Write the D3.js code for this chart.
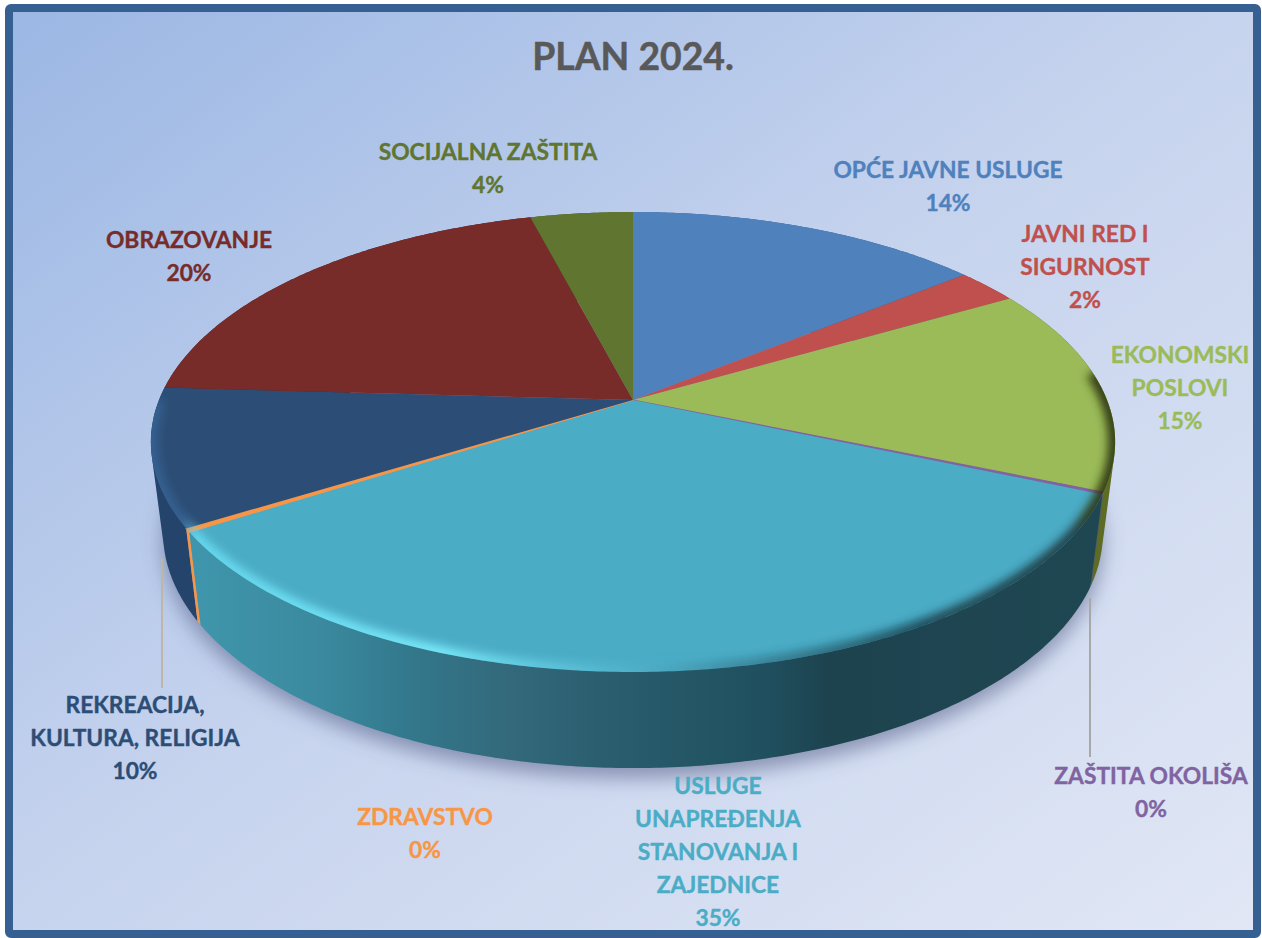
<!DOCTYPE html>
<html>
<head>
<meta charset="utf-8">
<script src="https://d3js.org/d3.v7.min.js"></script>
<style>
body { margin: 0; background: #fff; overflow: hidden; }
text { font-family: Lato, "Open Sans", sans-serif; font-weight: 700; text-anchor: middle; stroke-linejoin: round; }
</style>
</head>
<body>
<div id="chart"></div>
<script>
var chartTitle = "PLAN 2024.";
var categories = ["OPĆE JAVNE USLUGE", "JAVNI RED I SIGURNOST", "EKONOMSKI POSLOVI", "ZAŠTITA OKOLIŠA",
    "USLUGE UNAPREĐENJA STANOVANJA I ZAJEDNICE", "ZDRAVSTVO", "REKREACIJA, KULTURA, RELIGIJA", "OBRAZOVANJE", "SOCIJALNA ZAŠTITA"];
var values = [14.2, 2.5, 14.6, 0.15, 34.55, 0.25, 9.65, 20, 4.1];
var percentLabels = ["14%", "2%", "15%", "0%", "35%", "0%", "10%", "20%", "4%"];
var labelLines = [
    ["OPĆE JAVNE USLUGE"], ["JAVNI RED I", "SIGURNOST"], ["EKONOMSKI", "POSLOVI"], ["ZAŠTITA OKOLIŠA"],
    ["USLUGE", "UNAPREĐENJA", "STANOVANJA I", "ZAJEDNICE"], ["ZDRAVSTVO"], ["REKREACIJA,", "KULTURA, RELIGIJA"],
    ["OBRAZOVANJE"], ["SOCIJALNA ZAŠTITA"]
];
var colors = ["#4f81bd", "#c0504d", "#9bbb59", "#8064a2", "#4bacc6", "#f79646", "#2c4d75", "#772c2a", "#5f7530"];
var wallColors = ["#3b6190", "#903c3a", "#5d6b23", "#56557f", "url(#cyanWall)", "#f79646", "#24446c", "#5a2220", "#47581f"];

// where the label blocks sit: centre x, first baseline
var labelX = [948, 1085, 1180, 1151, 718, 425, 135, 189, 488];
var labelY = [178, 242, 363, 784, 794, 825, 713, 248, 160];
var lineGap = 33;

var width = 1262, height = 938;

var svg = d3.select("#chart").append("svg")
    .attr("width", width)
    .attr("height", height)
    .style("display", "block");

var defs = svg.append("defs");

var bg = defs.append("linearGradient").attr("id", "bg")
    .attr("x1", "0").attr("y1", "0").attr("x2", "1").attr("y2", "1");
bg.append("stop").attr("offset", "0").attr("stop-color", "#9bb7e4");
bg.append("stop").attr("offset", "0.5").attr("stop-color", "#c7d4ee");
bg.append("stop").attr("offset", "1").attr("stop-color", "#e1e7f5");

var cyanWall = defs.append("linearGradient").attr("id", "cyanWall")
    .attr("gradientUnits", "userSpaceOnUse")
    .attr("x1", 190).attr("y1", 0).attr("x2", 1100).attr("y2", 0);
[[0, "#3f96ac"], [0.14, "#3b8a9f"], [0.24, "#33788c"], [0.35, "#33697b"], [0.5, "#275a6a"], [0.63, "#205060"], [0.7, "#1d434f"], [1, "#1f4752"]]
    .forEach(function (s) {
        cyanWall.append("stop").attr("offset", s[0]).attr("stop-color", s[1]);
    });

var rim = defs.append("linearGradient").attr("id", "rim")
    .attr("gradientUnits", "userSpaceOnUse")
    .attr("x1", 150).attr("y1", 0).attr("x2", 1115).attr("y2", 0);
[[0, "#4a8fd0", 0.3], [0.035, "#4a8fd0", 0.3], [0.045, "#6fe6fb", 0.75], [0.3, "#7ff0ff", 0.9], [0.48, "#6fdcf0", 0.2], [0.6, "#1d434f", 0.3], [0.8, "#14343e", 0.8], [0.96, "#1d3a40", 0.95], [0.97, "#2b3208", 0.95], [1, "#2b3208", 0.95]]
    .forEach(function (s) {
        rim.append("stop").attr("offset", s[0]).attr("stop-color", s[1]).attr("stop-opacity", s[2]);
    });

defs.append("filter").attr("id", "soft").attr("filterUnits", "userSpaceOnUse")
    .attr("x", 100).attr("y", 300).attr("width", 1060).attr("height", 450)
    .append("feGaussianBlur").attr("stdDeviation", 5);
defs.append("filter").attr("id", "shadow").attr("x", "-10%").attr("y", "-10%").attr("width", "120%").attr("height", "130%")
    .append("feGaussianBlur").attr("stdDeviation", 10);

svg.append("rect").attr("x", 9).attr("y", 8).attr("width", 1248).attr("height", 926)
    .attr("rx", 2)
    .attr("fill", "url(#bg)")
    .attr("stroke", "#376092")
    .attr("stroke-width", 8);

// projection of the pie disc: perspective, so the apex is not the ellipse centre
var cx = 633, cy = 400, tilt = 0.1826;
var xScale = d3.scaleLinear().domain([-1, 1]).range([cx - 474, cx + 474]);
var yScale = d3.scaleLinear().domain([-1, 1]).range([cy + 222.3, cy - 222.3]);
var xBottom = d3.scaleLinear().domain([-1, 1]).range([cx - 462, cx + 462]);
var yBottom = d3.scaleLinear().domain([-1, 1]).range([490 + 227.3, 490 - 227.3]);

function project(a, xs, ys) {
    var u = Math.sin(a), v = Math.cos(a), w = 1 + tilt * v;
    return [xs(u / w), ys(v / w)];
}
function arcPoints(a0, a1, xs, ys) {
    var n = Math.max(2, Math.ceil((a1 - a0) / 0.01));
    return d3.range(n + 1).map(function (i) {
        return project(a0 + (a1 - a0) * i / n, xs, ys);
    });
}

var line = d3.line();
var pie = d3.pie().sort(null).value(function (d) { return d; });
var arcs = pie(values);

var fullTop = arcPoints(0, 2 * Math.PI, xScale, yScale);
var fullBottom = arcPoints(0, 2 * Math.PI, xBottom, yBottom);

svg.append("clipPath").attr("id", "topClip")
    .append("path").attr("d", line(fullTop) + "Z");

// shadow under the disc
svg.append("path")
    .attr("d", line(fullBottom) + "Z")
    .attr("fill", "#4a5680")
    .attr("fill-opacity", 0.55)
    .attr("filter", "url(#shadow)")
    .attr("transform", "translate(0,10)");

// side walls, painted back to front; hull keeps the silhouette tangent to both rims
var wallOrder = [0, 1, 8, 7, 2, 6, 3, 5, 4];
svg.append("g").selectAll("path")
    .data(wallOrder)
    .enter()
    .append("path")
    .attr("fill", function (i) { return wallColors[i]; })
    .attr("d", function (i) {
        var t = arcPoints(arcs[i].startAngle, arcs[i].endAngle, xScale, yScale);
        var b = arcPoints(arcs[i].startAngle, arcs[i].endAngle, xBottom, yBottom);
        return line(d3.polygonHull(t.concat(b))) + "Z";
    });

// top faces
var tops = svg.append("g");
tops.selectAll("path")
    .data(arcs)
    .enter()
    .append("path")
    .attr("fill", function (d, i) { return colors[i]; })
    .attr("stroke", function (d, i) { return d.value < 1 ? colors[i] : "none"; })
    .attr("stroke-width", function (d) { return d.value < 1 ? 1.2 : 0; })
    .attr("d", function (d) {
        return line([[cx, cy]].concat(arcPoints(d.startAngle, d.endAngle, xScale, yScale))) + "Z";
    });

// bevel along the front rim of the top face
var frontRim = arcPoints(Math.PI * 0.46, Math.PI * 1.5, xScale, yScale);
svg.append("g").attr("clip-path", "url(#topClip)")
    .append("path")
    .attr("d", line(frontRim))
    .attr("fill", "none")
    .attr("stroke", "url(#rim)")
    .attr("stroke-width", 14)
    .attr("filter", "url(#soft)");

// leader lines for the two smallest slices
var leaders = [[162, 558, 688, "#bdb7a8"], [1090, 598, 757, "#a8a8a8"]];
svg.append("g").selectAll("line")
    .data(leaders)
    .enter()
    .append("line")
    .attr("x1", function (d) { return d[0]; })
    .attr("x2", function (d) { return d[0]; })
    .attr("y1", function (d) { return d[1]; })
    .attr("y2", function (d) { return d[2]; })
    .attr("stroke", function (d) { return d[3]; })
    .attr("stroke-width", 2);

svg.append("text")
    .attr("x", cx)
    .attr("y", 70)
    .attr("font-size", 37.3)
    .attr("fill", "#595959")
    .attr("stroke", "#595959")
    .attr("stroke-width", 0.5)
    .text(chartTitle);

var labels = svg.append("g").selectAll("text")
    .data(categories)
    .enter()
    .append("text")
    .attr("font-size", 22.8)
    .attr("fill", function (d, i) { return colors[i]; })
    .attr("stroke", function (d, i) { return colors[i]; })
    .attr("stroke-width", 0.35);

labels.each(function (d, i) {
    var lines = labelLines[i].concat([percentLabels[i]]);
    var t = d3.select(this);
    lines.forEach(function (txt, j) {
        t.append("tspan")
            .attr("x", labelX[i])
            .attr("y", labelY[i] + j * lineGap)
            .text(txt);
    });
});
</script>
</body>
</html>
